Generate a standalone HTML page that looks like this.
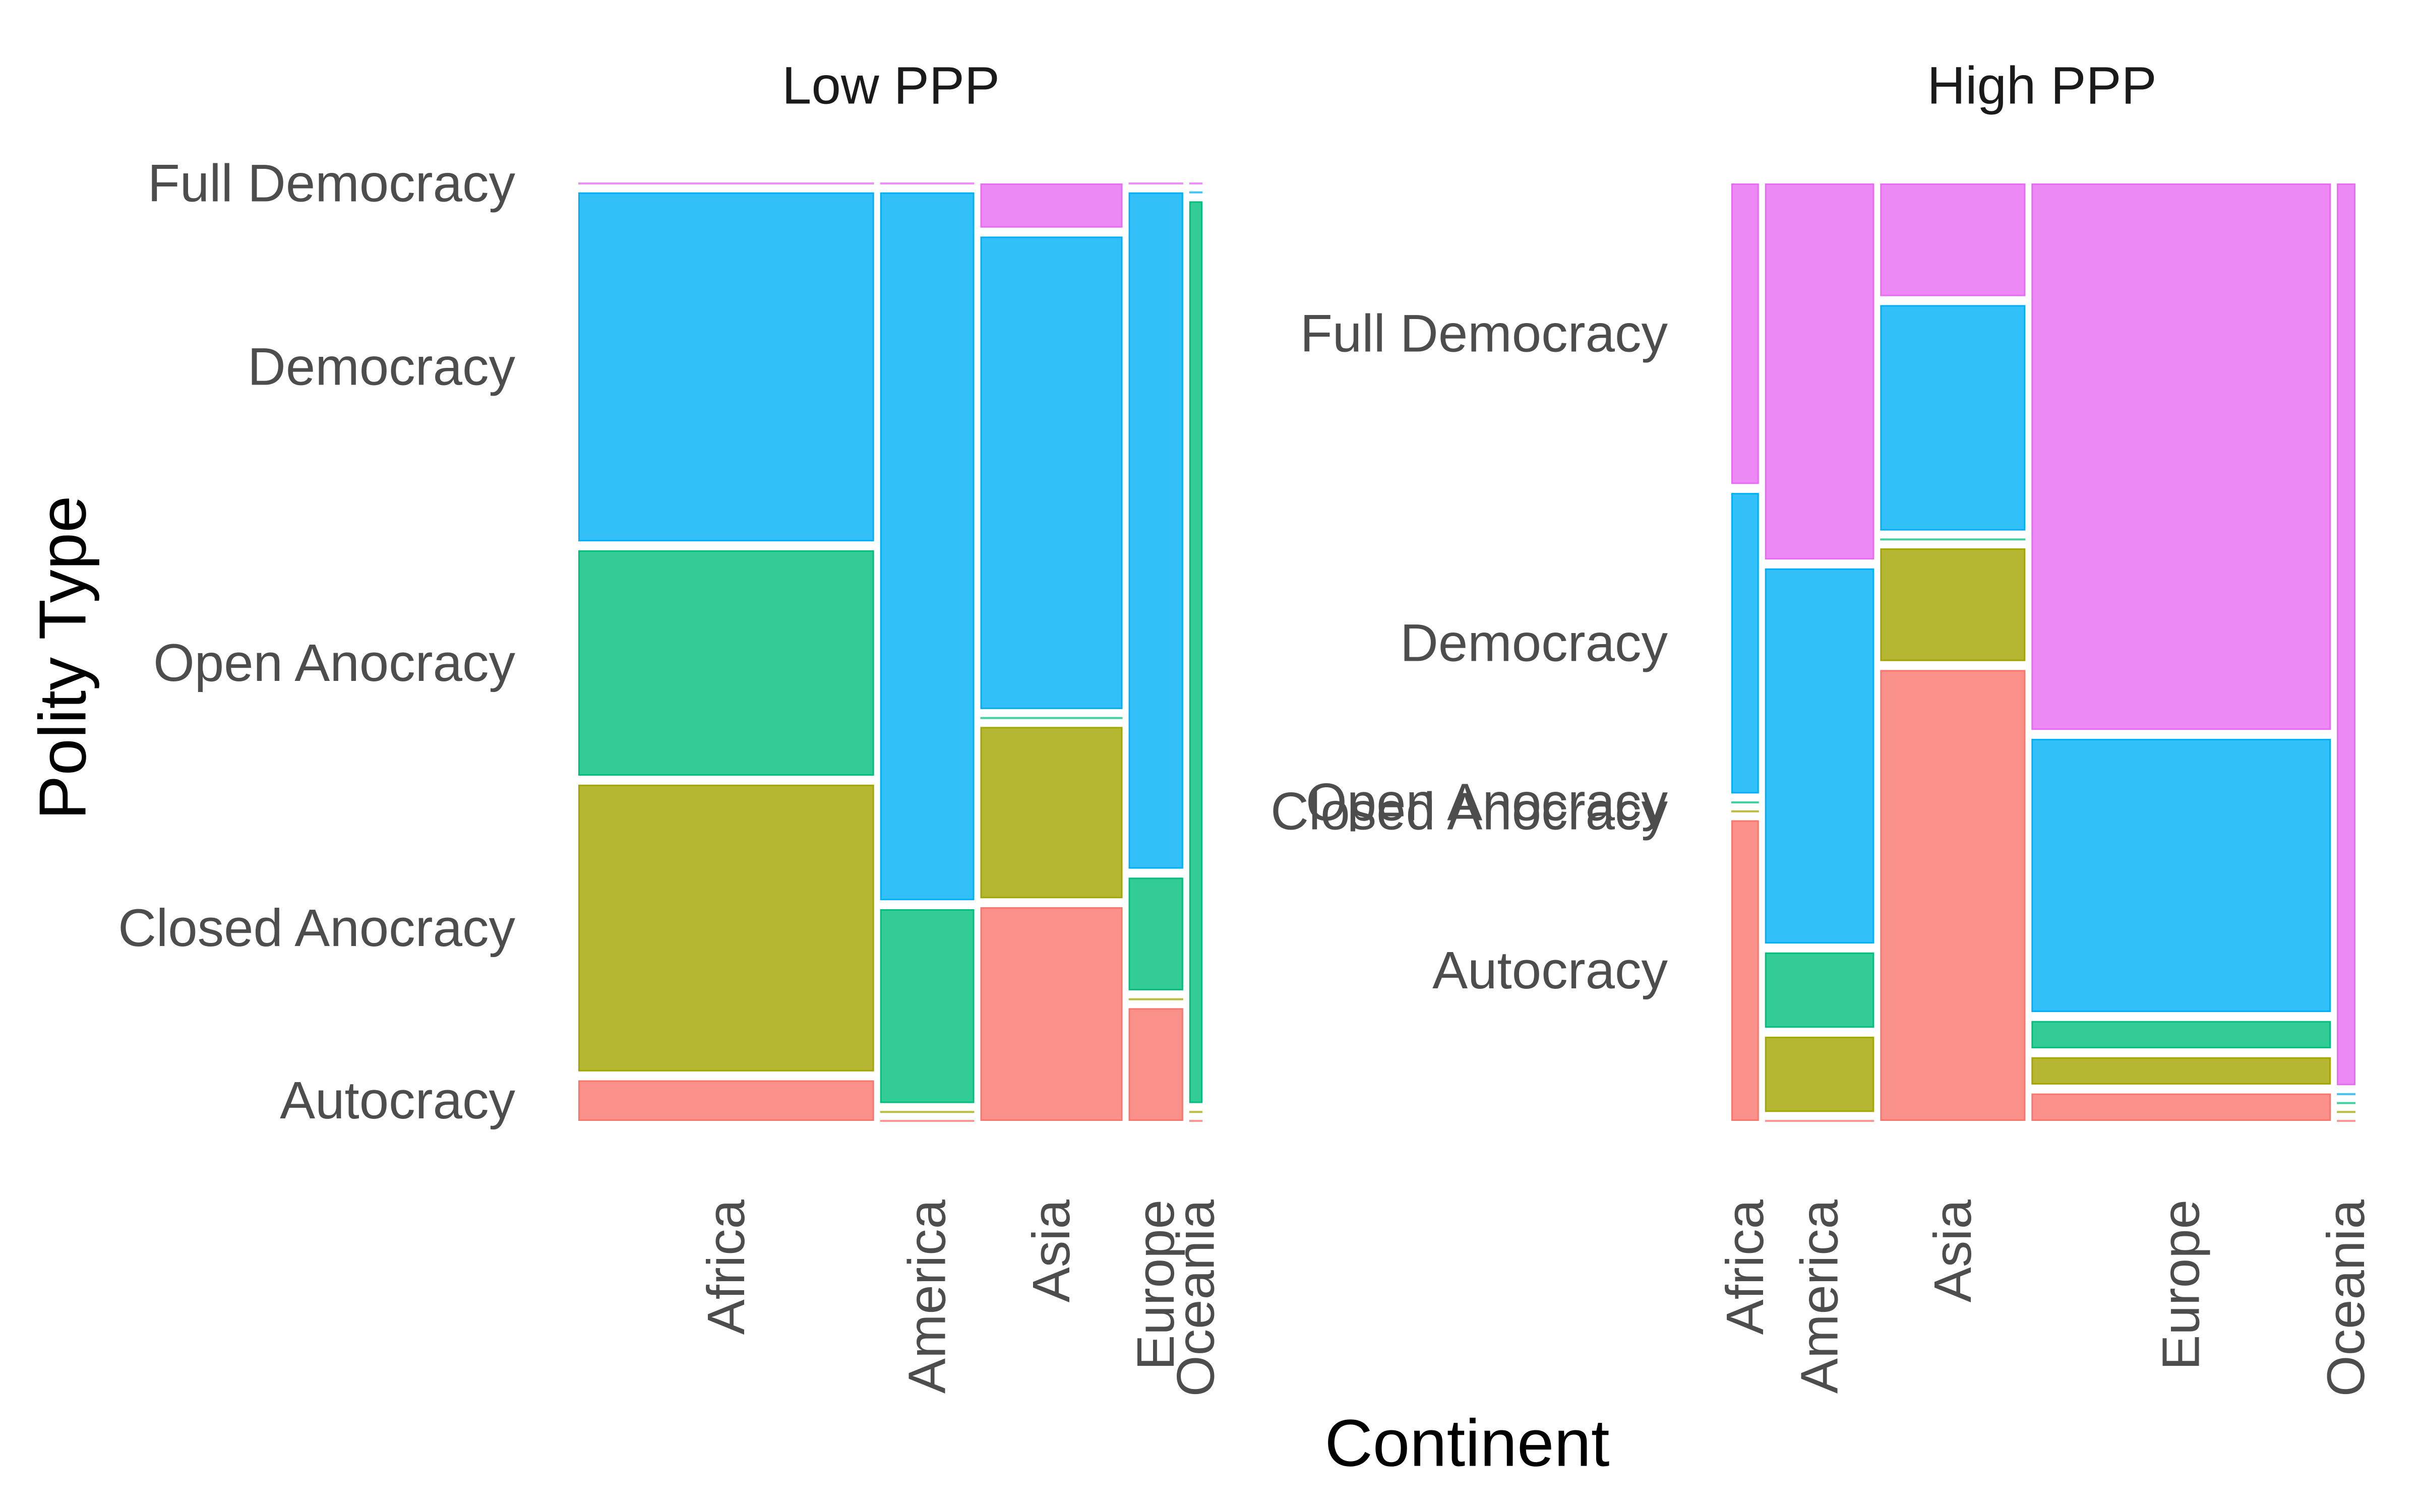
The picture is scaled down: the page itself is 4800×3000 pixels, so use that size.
<!DOCTYPE html>
<html><head><meta charset="utf-8"><style>
html,body{margin:0;padding:0;background:#fff;}
svg{display:block;font-family:"Liberation Sans",Arial,sans-serif;}
</style></head><body>
<svg id="chart" width="4800" height="3000" viewBox="0 0 4800 3000" xmlns="http://www.w3.org/2000/svg">
<rect width="4800" height="3000" fill="#fff"/>
<text x="1767" y="170" font-size="105" fill="#1a1a1a" text-anchor="middle" dominant-baseline="central">Low PPP</text>
<text x="4050" y="170" font-size="105" fill="#1a1a1a" text-anchor="middle" dominant-baseline="central">High PPP</text>
<text x="0" y="0" font-size="132" fill="#000" text-anchor="middle" dominant-baseline="central" transform="translate(124,1305) rotate(-90)">Polity Type</text>
<text x="2910" y="2863" font-size="132" fill="#000" text-anchor="middle" dominant-baseline="central">Continent</text>
<g id="panels"></g>
</svg>
<script>
const continents = ["Africa","America","Asia","Europe","Oceania"];
const polity = ["Full Democracy","Democracy","Open Anocracy","Closed Anocracy","Autocracy"];
const lowWidths = [0.493,0.157,0.237,0.091,0.022];
const highWidths = [0.046,0.182,0.242,0.499,0.031];
const lowAfrica = [0,0.387,0.250,0.318,0.045];
const lowAmerica = [0,0.785,0.215,0,0];
const lowAsia = [0.049,0.524,0,0.190,0.237];
const lowEurope = [0,0.75,0.125,0,0.125];
const lowOceania = [0,0,1,0,0];
const highAfrica = [0.3333,0.3333,0,0,0.3334];
const highAmerica = [0.417,0.416,0.0835,0.0835,0];
const highAsia = [0.125,0.25,0,0.125,0.5];
const highEurope = [0.606,0.303,0.0303,0.0303,0.0304];
const highOceania = [1,0,0,0,0];
const lowProps = [lowAfrica,lowAmerica,lowAsia,lowEurope,lowOceania];
const highProps = [highAfrica,highAmerica,highAsia,highEurope,highOceania];

const fills = ["#EC89F5","#33C0F8","#33CC97","#B5B733","#F9918A"];
const strokes = ["#E76BF3","#00B0F6","#00BF7D","#A3A500","#F8766D"];
const NS = "http://www.w3.org/2000/svg";
const g = document.getElementById("panels");
const top0 = 364, H = 1860, gapY = 17.7, W = 1238, gapX = 12;
const barH = H - 4*gapY, barW = W - 4*gapX;

function mk(tag, attrs){const e=document.createElementNS(NS,tag);for(const k in attrs)e.setAttribute(k,attrs[k]);return e;}

function drawPanel(left, widths, props, key, labelRight){
  let x = left;
  const firstCenters = [];
  widths.forEach((wp, ci) => {
    const w = wp*barW;
    let y = top0;
    props[ci].forEach((p, pi) => {
      const h = p*barH;
      let el;
      if (h < 1) {
        el = mk("rect",{x:x,y:y-2,width:w,height:4,fill:strokes[pi],opacity:0.75});
        if (ci===0) firstCenters.push(y);
      } else {
        el = mk("rect",{x:x+1.5,y:y+1.5,width:w-3,height:h-3,fill:fills[pi],stroke:strokes[pi],"stroke-width":3});
        if (ci===0) firstCenters.push(y+h/2);
      }
      
      
      g.appendChild(el);
      y += h + gapY;
    });
    const t = mk("text",{x:0,y:0,"font-size":105,fill:"#4d4d4d","text-anchor":"end","dominant-baseline":"central",transform:"translate("+(x+w/2)+",2380) rotate(-90)"});
    t.textContent = continents[ci];
    
    
    g.appendChild(t);
    x += w + gapX;
  });
  polity.forEach((name, pi) => {
    const t = mk("text",{x:labelRight,y:firstCenters[pi],"font-size":105,fill:"#4d4d4d","text-anchor":"end","dominant-baseline":"central"});
    t.textContent = name;
    
    
    g.appendChild(t);
  });
}
drawPanel(1147, lowWidths, lowProps, "low", 1022);
drawPanel(3434, highWidths, highProps, "high", 3308);
</script>
</body></html>
